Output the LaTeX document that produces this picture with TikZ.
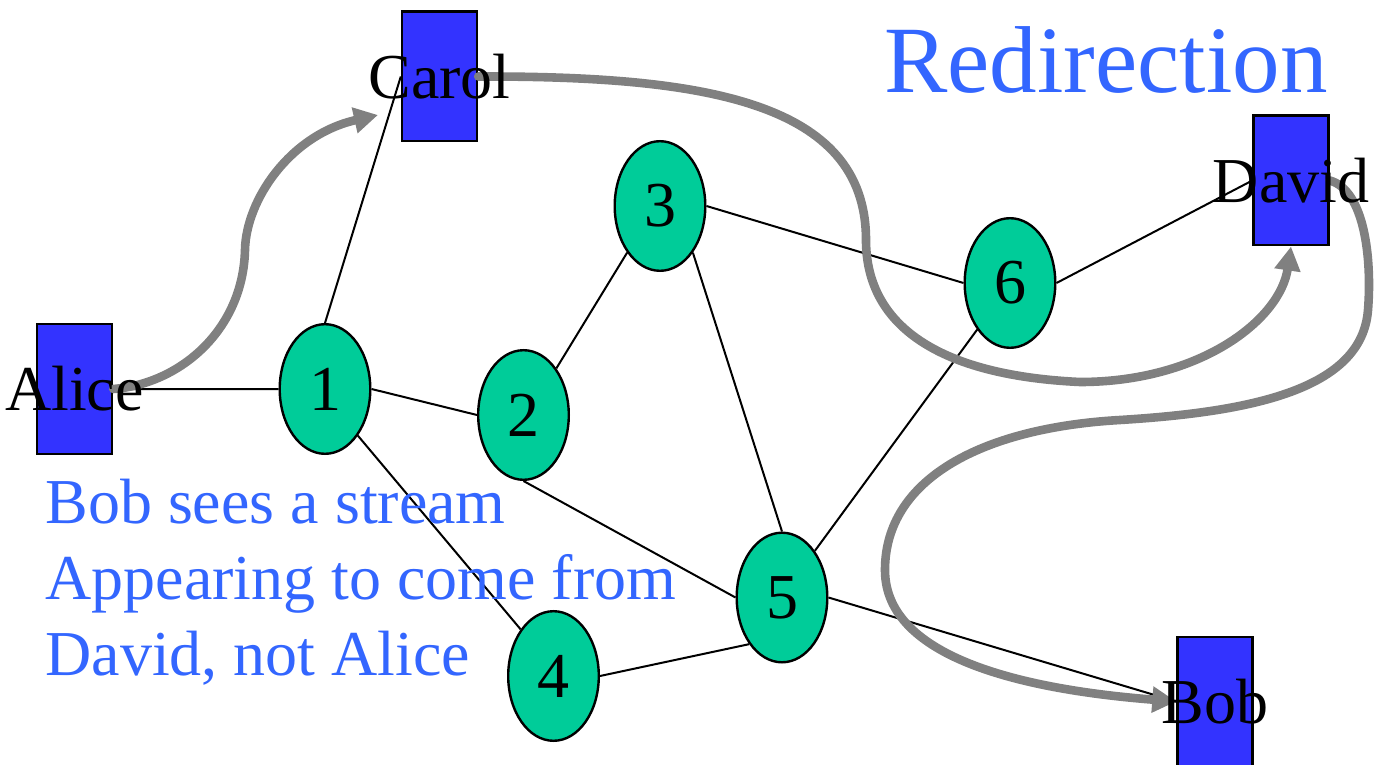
\documentclass[tikz,border=0pt]{standalone}
\usepackage{fontspec}
\setmainfont{Liberation Serif}
\usetikzlibrary{arrows.meta,shapes.geometric,backgrounds}
\definecolor{hostblue}{RGB}{51,51,255}
\definecolor{routergreen}{RGB}{0,204,153}
\definecolor{notecolor}{RGB}{51,102,255}
\definecolor{flowgray}{RGB}{128,128,128}

\begin{document}
\begin{tikzpicture}[x=0.5pt,y=-0.5pt,
  host/.style={draw=black, line width=1.2pt, fill=hostblue,
    minimum width=37.5pt, minimum height=64.8pt, inner sep=0pt},
  hostname/.style={font=\fontsize{32}{38}\selectfont, inner sep=0pt},
  router/.style={ellipse, draw=black, line width=1.2pt, fill=routergreen,
    minimum width=45.3pt, minimum height=64.8pt, inner sep=0pt,
    font=\fontsize{32}{38}\selectfont},
  link/.style={line width=1pt},
  flow/.style={draw=flowgray, line width=4.3pt, line cap=round,
    -{Triangle[length=12pt,width=12.5pt]}},
  note/.style={text=notecolor, font=\fontsize{32}{38}\selectfont,
    anchor=base west, inner sep=0pt}]

\useasboundingbox (0,0) rectangle (1389,765);

% routers and end hosts
\node[router] (n1) at (325,389) {1};
\node[router] (n2) at (523.5,415) {2};
\node[router] (n3) at (660,206) {3};
\node[router] (n4) at (553.5,676) {4};
\node[router] (n5) at (782,597.5) {5};
\node[router] (n6) at (1010,283) {6};

\node[host] (alice) at (74.5,389) {};
\node[host] (carol) at (439.5,76.5) {};
\node[host] (david) at (1291,180.5) {};
\node[host] (bob) at (1215,701.5) {};

% network links, kept behind the shapes
\begin{pgfonlayer}{background}
\path[link,draw] (alice) -- (n1)
  (n1.north) -- (carol.west)
  (n1.east) -- (n2.west)
  (n1.south east) -- (n4.north west)
  (n2.north east) -- (n3.south west)
  (n2.south) -- (n5.west)
  (n3.east) -- (n6.west)
  (n3.south east) -- (n5.north)
  (n4.east) -- (n5.south west)
  (n5.north east) -- (n6.south west)
  (n6.east) -- (david.west)
  (n5.east) -- (bob.west);
\end{pgfonlayer}

% traffic flows
\coordinate (aimC) at (378,115);
\draw[flow] (alice.east) .. controls (180,384) and (243,330) .. (245,250)
  .. controls (246,200) and (290,135) .. (aimC);
\draw[flow] (carol.east) .. controls (700,76) and (866,100) .. (866,240)
  .. controls (866,320) and (930,375) .. (1080,382)
  .. controls (1200,382) and (1280,320) .. (david.south);
\draw[flow] (david.east) .. controls (1365,190) and (1372,260) .. (1368,310)
  .. controls (1362,390) and (1250,412) .. (1120,420)
  .. controls (980,428) and (885,480) .. (885,570)
  .. controls (885,660) and (1030,690) .. (bob.west);

% host names
\node[hostname] (aliceName) at (alice) {Alice};
\node[hostname] (carolName) at (carol) {Carol};
\node[hostname] (davidName) at (david) {David};
\node[hostname] (bobName) at (bob) {Bob};

% title and note
\node[text=notecolor, font=\fontsize{47.5}{56}\selectfont, anchor=base west,
  inner sep=0pt] (title) at (884,93) {Redirection};
\node[note] (note1) at (45,523) {Bob sees a stream};
\node[note] (note2) at (45,599) {Appearing to come from};
\node[note] (note3) at (45,675) {David, not Alice};
\end{tikzpicture}
\end{document}
